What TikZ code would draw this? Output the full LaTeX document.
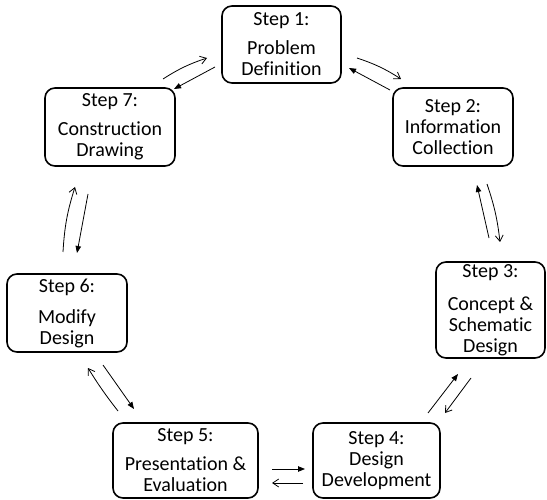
\documentclass[tikz,border=0pt]{standalone}
\usepackage{fontspec}
\setmainfont{Carlito}[Ligatures=NoCommon]
\usetikzlibrary{arrows.meta}
\tikzset{
  stepbox/.style={draw, line width=1.6pt, rounded corners=10pt, align=center,
    inner sep=0pt, font=\fontsize{20}{21}\selectfont},
  fwd/.style={-{Straight Barb[length=6pt,width=8pt]}, line width=0.8pt},
  back/.style={-{Triangle[length=7pt,width=5.5pt]}, line width=0.8pt},
}
\newcommand{\steptext}[3]{#1\\[#2]#3}
\begin{document}
\begin{tikzpicture}[x=1pt,y=-1pt]
\useasboundingbox (0,0) rectangle (547,500);

% process steps
\node[stepbox, minimum width=119pt, minimum height=77pt] (s1) at (281.5,44.5)
  {\steptext{Step 1:}{8pt}{Problem\\Definition}};
\node[stepbox, minimum width=120pt, minimum height=78pt] (s2) at (453,127)
  {\steptext{Step 2:}{0pt}{Information\\Collection}};
\node[stepbox, minimum width=109pt, minimum height=96pt] (s3) at (490.5,310)
  {\steptext{Step 3:}{12pt}{Concept \&\\Schematic\\Design}};
\node[stepbox, minimum width=127pt, minimum height=75pt] (s4) at (376.5,460.5)
  {\steptext{Step 4:}{0pt}{Design\\Development}};
\node[stepbox, minimum width=145pt, minimum height=75pt] (s5) at (185.5,460.5)
  {\steptext{Step 5:}{8pt}{Presentation \&\\Evaluation}};
\node[stepbox, minimum width=120pt, minimum height=78pt] (s6) at (67,313)
  {\steptext{Step 6:}{10pt}{Modify\\Design}};
\node[stepbox, minimum width=130pt, minimum height=78pt] (s7) at (110,127)
  {\steptext{Step 7:}{8pt}{Construction\\Drawing}};

% arrow end points between neighbouring steps
\coordinate (a71) at (163,79);  \coordinate (b71) at (207,58);
\coordinate (a17) at (215,67);  \coordinate (b17) at (174,89);
\coordinate (a12) at (357,58);  \coordinate (b12) at (401,79);
\coordinate (a21) at (390,90);  \coordinate (b21) at (349,68);
\coordinate (a23) at (487,184); \coordinate (b23) at (500,242);
\coordinate (a32) at (489,238); \coordinate (b32) at (477,185);
\coordinate (a34) at (471,378); \coordinate (b34) at (445,413);
\coordinate (a43) at (428,413); \coordinate (b43) at (458,374);
\coordinate (a45) at (303,483); \coordinate (b45) at (272,483);
\coordinate (a54) at (272,469); \coordinate (b54) at (305,469);
\coordinate (a56) at (118,411); \coordinate (b56) at (88,368);
\coordinate (a65) at (103,365); \coordinate (b65) at (134,409);
\coordinate (a67) at (63,252);  \coordinate (b67) at (75,187);
\coordinate (a76) at (88,194);  \coordinate (b76) at (77,253);

\draw[fwd] (a71) to[bend left=7] (b71);
\draw[back] (a17) -- (b17);
\draw[fwd] (a12) to[bend left=7] (b12);
\draw[back] (a21) -- (b21);
\draw[fwd] (a23) to[bend left=6] (b23);
\draw[back] (a32) -- (b32);
\draw[fwd] (a34) -- (b34);
\draw[back] (a43) -- (b43);
\draw[fwd] (a45) -- (b45);
\draw[back] (a54) -- (b54);
\draw[fwd] (a56) to[bend left=3] (b56);
\draw[back] (a65) -- (b65);
\draw[fwd] (a67) to[bend left=7] (b67);
\draw[back] (a76) -- (b76);
\end{tikzpicture}
\end{document}
